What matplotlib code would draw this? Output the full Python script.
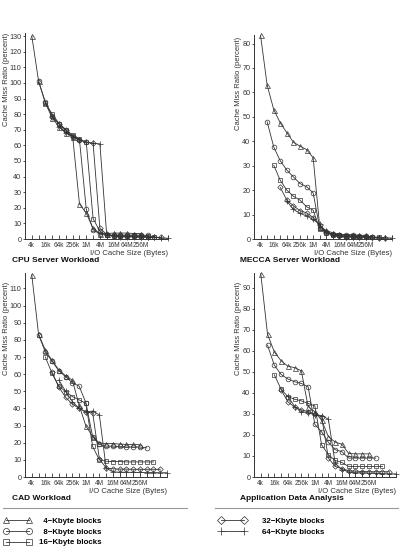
import matplotlib
matplotlib.use('Agg')
import matplotlib.pyplot as plt
from matplotlib.lines import Line2D
from matplotlib.ticker import NullLocator

plt.rcParams['font.family'] = ['Liberation Sans', 'DejaVu Sans']

# cache sizes in KB, one per doubling (4k .. 4G)
cache_kb = [4, 8, 16, 32, 64, 128, 256, 512, 1024, 2048, 4096, 8192, 16384,
            32768, 65536, 131072, 262144, 524288, 1048576, 2097152, 4194304]
tick_labels = ['4k', '', '16k', '', '64k', '', '256k', '', '1M', '', '4M', '',
               '16M', '', '64M', '', '256M', '', '', '', '']

block_kb = [4, 8, 16, 32, 64]
block_labels = ['\u20074\u2212Kbyte blocks', '\u20078\u2212Kbyte blocks', '16\u2212Kbyte blocks',
                '32\u2212Kbyte blocks', '64\u2212Kbyte blocks']

# each series starts at its block size
cpu_4k = [130, 101, 87, 77.5, 72, 68, 65.6, 22.5, 16.5, 6.8, 3.5, 3.5, 3.8, 3.8, 3.8, 3.5, 3.5]
cpu_8k = [101, 87.5, 79, 73.5, 69, 65.5, 63.5, 19, 6, 3, 2.5, 2.5, 2.5, 2.5, 2.5, 2.5, 2.3]
cpu_16k = [87, 80, 74, 70, 66.5, 64, 62, 13, 5, 2.5, 2, 2, 2, 2, 2, 1.8, 1.5]
cpu_32k = [78, 74, 70, 66, 63.5, 62, 61.3, 6.8, 3, 2, 1.8, 1.8, 1.8, 1.5, 1.5, 1.2, 1.0]
cpu_64k = [72, 68, 65.5, 63.5, 62, 61.3, 61, 2.6, 2, 1.5, 1.5, 1.5, 1.2, 1.2, 1, 0.8, 0.5]

mecca_4k = [83.3, 63, 53, 47.5, 43.5, 39.6, 38, 36.6, 33.3, 5, 3.5, 2.5, 2, 1.8, 1.8, 1.5, 1.5]
mecca_8k = [48, 37.7, 32, 28.2, 25.4, 22.7, 21.4, 18.9, 4.5, 3, 2, 1.8, 1.5, 1.5, 1.3, 1.2, 1.0]
mecca_16k = [30.2, 24, 20, 17.5, 15.9, 13.2, 11.8, 4, 2.5, 1.8, 1.5, 1.3, 1.2, 1.0, 1.0, 0.8, 0.8]
mecca_32k = [21.1, 15.9, 13.6, 11.6, 10.7, 8.8, 5.7, 2.5, 1.5, 1.2, 1.0, 1.0, 0.8, 0.8, 0.7, 0.6, 0.5]
mecca_64k = [15.5, 12.1, 10.5, 9.4, 8.0, 6, 3, 1.8, 1.3, 1.0, 0.8, 0.8, 0.7, 0.6, 0.5, 0.5, 0.4]

cad_4k = [118, 83.5, 74, 68, 62.5, 59, 56.5, 42, 29.8, 23.6, 19.8, 19.5, 19.5, 19.2, 19, 19, 18.8]
cad_8k = [83, 73, 67.5, 62, 58.5, 55, 53, 43.4, 23.6, 19, 18, 18, 17.8, 17.5, 17.5, 17.5, 17]
cad_16k = [70, 60.5, 53, 49.8, 46.9, 45, 43, 17.8, 10, 9.2, 9, 9, 8.8, 8.8, 8.8, 8.8, 8.8]
cad_32k = [61, 52.5, 46.5, 42.6, 40, 38.2, 37.5, 10.6, 5.2, 4.8, 4.6, 4.6, 4.5, 4.5, 4.5, 4.5, 4.5]
cad_64k = [56.6, 50, 44, 40, 37.8, 38.5, 36.2, 5.2, 3, 2.8, 2.8, 2.7, 2.7, 2.6, 2.6, 2.5, 2.5]

app_4k = [96.7, 67.9, 59.5, 55.3, 52.7, 52, 50.5, 33.5, 31, 27, 19.2, 16.6, 15.6, 11.2, 11, 11, 11]
app_8k = [62.7, 53.2, 48.8, 46.6, 45.3, 44.5, 42.9, 25, 21.5, 16.5, 13, 12, 9, 9, 9, 9, 9]
app_16k = [48.6, 41.8, 38.2, 37, 36.2, 35, 33.8, 15.3, 10.6, 7.9, 6.9, 5, 5, 5, 5, 5, 5]
app_32k = [41.5, 35.8, 33.2, 31.9, 31.1, 30, 28.7, 9, 5, 4, 3, 2.8, 2.6, 2.5, 2.5, 2.5, 2.5]
app_64k = [38.5, 33.5, 31.1, 30.6, 29.5, 29.2, 27.5, 6.6, 3.5, 2.5, 2, 2, 1.8, 1.8, 1.6, 1.5, 1.5]

W, H = 405, 554
INK = '#333333'
markers = ['^', 'o', 's', 'D', '+']
msizes = [3.6, 3.4, 3.4, 2.8, 4.2]

fig = plt.figure(figsize=(W / 100, H / 100), dpi=100)


def draw_panel(box, series, ymax, yticks, title, title_xy, ylab_xy):
    l, t, r, b = box
    ax = fig.add_axes([l / W, 1 - b / H, (r - l) / W, (b - t) / H])
    for blk, vals, m, ms in zip(block_kb, series, markers, msizes):
        start = cache_kb.index(blk)
        xs = cache_kb[start:start + len(vals)]
        ax.plot(xs, vals, color=INK, lw=0.6, marker=m, ms=ms, mfc='none',
                mec=INK, mew=0.5, clip_on=False)
    ax.set_xscale('log', base=2)
    ax.set_xlim(2, 4194304)
    ax.set_ylim(0, ymax)
    ax.set_xticks(cache_kb)
    ax.set_xticklabels(tick_labels)
    ax.xaxis.set_minor_locator(NullLocator())
    ax.set_yticks(yticks)
    ax.tick_params(axis='x', direction='in', length=3, width=0.6, pad=2,
                   labelsize=4.7, colors=INK)
    ax.tick_params(axis='y', direction='out', length=1.8, width=0.6, pad=0.8,
                   labelsize=5.2, colors=INK)
    for s in ['top', 'right']:
        ax.spines[s].set_visible(False)
    for s in ['left', 'bottom']:
        ax.spines[s].set_linewidth(0.7)
        ax.spines[s].set_color(INK)
    fig.text(ylab_xy[0] / W, 1 - ylab_xy[1] / H, 'Cache Miss Ratio (percent)',
             rotation=90, ha='center', va='top', fontsize=5.5, color=INK)
    ax.set_xlabel('I/O Cache Size (Bytes)', loc='right', fontsize=5.5,
                  labelpad=1.2, color=INK)
    fig.text(title_xy[0] / W, 1 - title_xy[1] / H, title, fontsize=6,
             fontweight='bold', va='center', ha='left', color='#111111')
    return ax


draw_panel((25, 33, 168, 239), [cpu_4k, cpu_8k, cpu_16k, cpu_32k, cpu_64k],
           132, range(0, 131, 10), 'CPU Server Workload', (12, 260), (6.5, 33))
draw_panel((254, 35, 392, 239), [mecca_4k, mecca_8k, mecca_16k, mecca_32k, mecca_64k],
           83.5, range(0, 81, 10), 'MECCA Server Workload', (240, 260), (238, 37))
draw_panel((25, 273, 167, 477), [cad_4k, cad_8k, cad_16k, cad_32k, cad_64k],
           119, range(0, 111, 10), 'CAD Workload', (12, 498), (6.5, 282))
draw_panel((254, 273, 396, 477), [app_4k, app_8k, app_16k, app_32k, app_64k],
           97, range(0, 91, 10), 'Application Data Analysis', (240, 498), (238, 282))

# separator lines above the legend
for x0, x1 in [(3, 187), (215, 398)]:
    fig.add_artist(Line2D([x0 / W, x1 / W], [1 - 508 / H, 1 - 508 / H],
                          transform=fig.transFigure, color='#999999', lw=0.8))

handles = [Line2D([], [], color=INK, lw=0.6, marker=m, ms=ms + 1, mfc='none',
                  mec=INK, mew=0.5) for m, ms in zip(markers, msizes)]
leg_kw = dict(loc='upper left', numpoints=2, handlelength=3.4,
              labelspacing=0.4, frameon=False, borderpad=0, borderaxespad=0,
              prop={'weight': 'bold', 'size': 5.7})
fig.legend(handles[:3], block_labels[:3], bbox_to_anchor=(4 / W, 1 - 517.5 / H),
           handletextpad=1.0, **leg_kw)
fig.legend(handles[3:], block_labels[3:], bbox_to_anchor=(219 / W, 1 - 517.5 / H),
           handletextpad=2.0, **leg_kw)

fig.savefig('out.png', dpi=100)
